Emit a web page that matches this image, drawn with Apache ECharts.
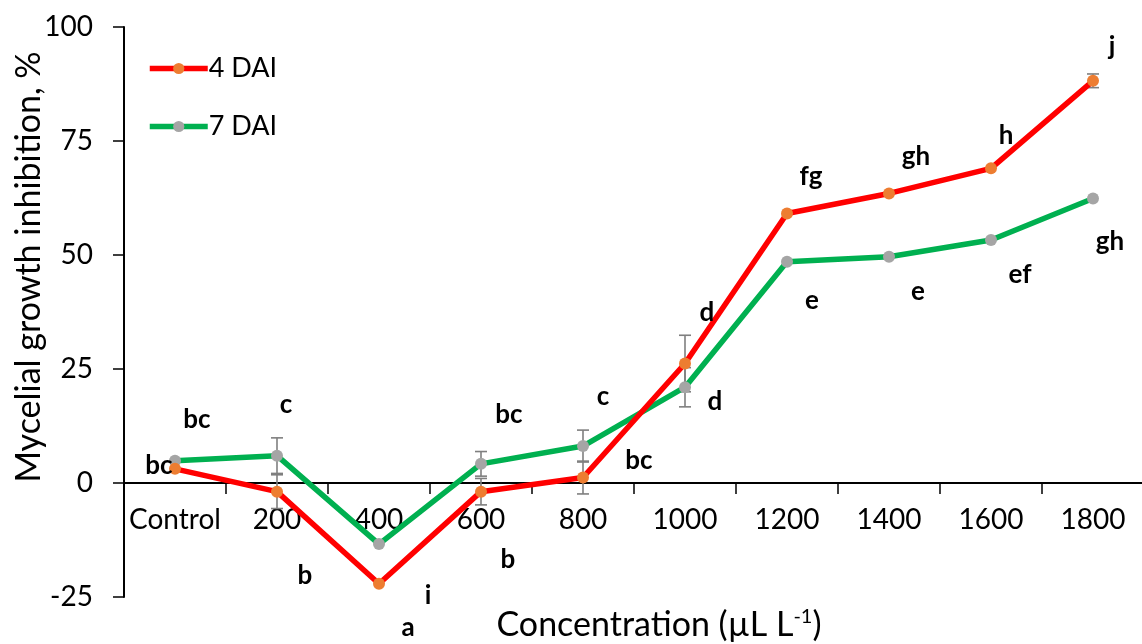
<!DOCTYPE html>
<html>
	<head>
		<title>Mycelial growth inhibition</title>
		<script src="https://cdn.jsdelivr.net/npm/echarts@6/dist/echarts.min.js"></script>
	</head>
	<body style="margin:0;padding:0;background:#fff">
		<div id="chart" style="width: 1142px;height:644px;border:none"></div>
	</body>
	<script type="text/javascript">
		var categories = ["Control", "200", "400", "600", "800", "1000", "1200", "1400", "1600", "1800"];
		var dai4 = [3.1, -1.9, -22.1, -1.9, 1.2, 26.2, 59.1, 63.5, 69.0, 88.2];
		var dai7 = [4.9, 6.0, -13.4, 4.2, 8.1, 21.0, 48.5, 49.6, 53.3, 62.4];
		// standard errors (0 = not drawn)
		var err4 = [0, 3.7, 0, 2.9, 3.6, 6.2, 0, 0, 0, 1.5];
		var err7 = [0, 3.9, 0, 2.7, 3.5, 4.3, 0, 0, 0, 0];

		// significance letters: [category index, y value, text, x offset px]
		var letters = [
			[0, 13.8, "bc", 22],
			[0, 3.9, "bc", -16],
			[1, 17.1, "c", 9],
			[1, -20.4, "b", 28],
			[2, -31.8, "a", 29],
			[2, -24.8, "i", 49],
			[3, 14.9, "bc", 28],
			[3, -16.9, "b", 27],
			[4, 18.9, "c", 20],
			[4, 5.0, "bc", 56],
			[5, 37.3, "d", 22],
			[5, 17.8, "d", 30],
			[6, 67.1, "fg", 24],
			[6, 40.1, "e", 25],
			[7, 71.5, "gh", 27],
			[7, 41.9, "e", 29],
			[8, 76.1, "h", 15],
			[8, 45.6, "ef", 29],
			[9, 95.6, "j", 19],
			[9, 52.9, "gh", 17]
		];

		var font = "Lato";

		function errData(vals, errs) {
			var out = [];
			vals.forEach(function (v, i) {
				if (errs[i] > 0) out.push([i, v - errs[i], v + errs[i]]);
			});
			return out;
		}

		function renderErr(params, api) {
			var lo = api.coord([api.value(0), api.value(1)]);
			var hi = api.coord([api.value(0), api.value(2)]);
			var w = 6;
			var st = { stroke: "#7f7f7f", lineWidth: 1.6 };
			return {
				type: "group",
				children: [
					{ type: "line", shape: { x1: lo[0], y1: lo[1], x2: hi[0], y2: hi[1] }, style: st },
					{ type: "line", shape: { x1: lo[0] - w, y1: lo[1], x2: lo[0] + w, y2: lo[1] }, style: st },
					{ type: "line", shape: { x1: hi[0] - w, y1: hi[1], x2: hi[0] + w, y2: hi[1] }, style: st }
				]
			};
		}

		var myChart = echarts.init(document.getElementById("chart"));
		var option = {
			backgroundColor: "#fff",
			animation: false,
			textStyle: { fontFamily: font },
			grid: { left: 124, top: 27, width: 1020, height: 570, outerBoundsMode: "none" },
			legend: {
				orient: "vertical",
				left: 142,
				top: 50,
				itemWidth: 58,
				itemHeight: 14,
				itemGap: 31,
				data: ["4 DAI", "7 DAI"],
				lineStyle: { width: 5.5 },
				textStyle: { fontFamily: font, fontSize: 27, color: "#000", padding: [0, 0, 0, -4] }
			},
			xAxis: {
				type: "category",
				data: categories,
				boundaryGap: true,
				position: "bottom",
				// axis line sits at y = 0 (grid height * 25 / 125 above the bottom)
				offset: -114,
				axisLine: { onZero: false, lineStyle: { color: "#000", width: 2 } },
				axisTick: { show: true, length: 11, inside: false, lineStyle: { color: "#000", width: 1.5 } },
				axisLabel: { color: "#000", fontSize: 28, margin: 23, fontFamily: font, interval: 0 },
				splitLine: { show: false },
				name: "Concentration (µL L{sup|-1})",
				nameLocation: "middle",
				nameGap: 124,
				nameTextStyle: {
					color: "#000", fontSize: 34, fontFamily: font,
					padding: [0, 0, 0, 50],
					rich: { sup: { fontSize: 20, verticalAlign: "top", padding: [0, 0, 16, 0], fontFamily: font } }
				}
			},
			yAxis: {
				type: "value",
				min: -25,
				max: 100,
				interval: 25,
				axisLine: { show: true, lineStyle: { color: "#000", width: 2 } },
				axisTick: { show: true, length: 11, lineStyle: { color: "#000", width: 1.5 } },
				axisLabel: { color: "#000", fontSize: 28, margin: 31, fontFamily: font },
				splitLine: { show: false }
			},
			graphic: [{
				type: "text",
				x: 29,
				y: 267,
				rotation: Math.PI / 2,
				style: {
					text: "Mycelial growth inhibition, %",
					fontSize: 34,
					fontFamily: font,
					fill: "#000",
					align: "center",
					verticalAlign: "middle"
				}
			}],
			series: [
				{
					type: "custom",
					name: "err4",
					renderItem: renderErr,
					data: errData(dai4, err4),
					z: 1,
					silent: true
				},
				{
					type: "custom",
					name: "err7",
					renderItem: renderErr,
					data: errData(dai7, err7),
					z: 1,
					silent: true
				},
				{
					name: "7 DAI",
					type: "line",
					data: dai7,
					symbol: "circle",
					symbolSize: 12,
					showAllSymbol: true,
					lineStyle: { color: "#00b050", width: 5.5 },
					itemStyle: { color: "#a5a5a5", borderWidth: 0 },
					z: 2
				},
				{
					name: "4 DAI",
					type: "line",
					data: dai4,
					symbol: "circle",
					symbolSize: 12,
					showAllSymbol: true,
					lineStyle: { color: "#ff0000", width: 5.5 },
					itemStyle: { color: "#ed7d31", borderWidth: 0 },
					z: 3
				},
				{
					type: "scatter",
					name: "letters",
					symbolSize: 0,
					itemStyle: { opacity: 1 },
					clip: false,
					silent: true,
					z: 5,
					data: letters.map(function (l) {
						return {
							value: [l[0], l[1]],
							label: {
								show: true,
								formatter: l[2],
								offset: [l[3], 0],
								position: "inside",
								fontSize: 26,
								fontWeight: "bold",
								fontFamily: font,
								color: "#000",
								opacity: 1
							}
						};
					})
				}
			]
		};
		myChart.setOption(option);
	</script>
</html>
